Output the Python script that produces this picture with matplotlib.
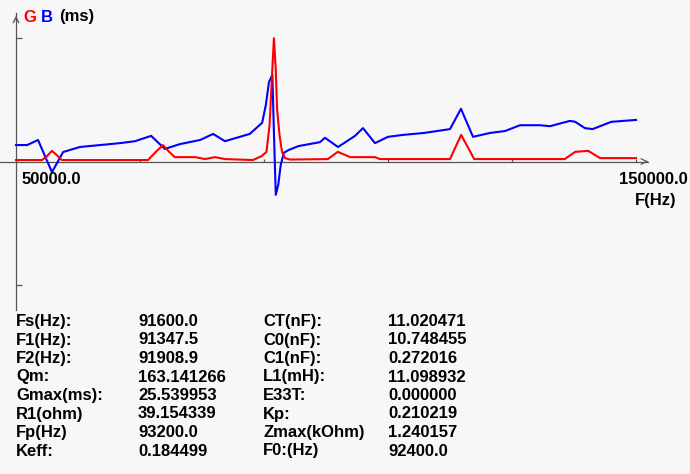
import matplotlib.pyplot as plt

# conductance G (red) and susceptance B (blue), in ms, vs frequency in Hz
freq_g = [50000, 54200, 55000, 55800, 56600, 57400, 71300, 72400, 73700, 74700,
          75600, 78900, 80500, 82100, 83700, 88200, 89600, 90400, 90900, 91300,
          91600, 91900, 92100, 92500, 92900, 93400, 94200, 100300, 101900, 103900,
          107900, 108700, 120000, 121800, 123900, 138500, 140200, 142300, 144200, 150000]
g_ms = [0.3, 0.3, 1.1, 2.2, 1.3, 0.3, 0.3, 1.8, 3.4, 2.0,
        0.9, 0.9, 0.5, 0.9, 0.5, 0.3, 1.1, 2.0, 7.5, 18.0,
        25.5, 19.0, 11.0, 5.5, 2.0, 0.7, 0.4, 0.5, 2.0, 0.9,
        0.9, 0.5, 0.5, 5.5, 0.5, 0.5, 2.0, 2.2, 0.7, 0.7]

freq_b = [50000, 51800, 53550, 55800, 57600, 60300, 63550, 66800, 69200, 71800,
          74000, 76450, 79700, 81800, 83700, 86100, 87700, 89700, 90300, 90800,
          91350, 91600, 91900, 92300, 92700, 93200, 94000, 95600, 99030, 99840,
          101940, 104680, 105970, 107900, 110000, 112400, 115800, 120000, 121770, 123710,
          126450, 128870, 131290, 134500, 136130, 139350, 140200, 141770, 143000, 146000, 150000]
b_ms = [3.4, 3.4, 4.45, -2.2, 1.96, 3.0, 3.4, 3.8, 4.2, 5.3,
        2.6, 3.6, 4.45, 5.7, 4.2, 5.1, 5.7, 8.0, 11.7, 16.4,
        17.9, 6.0, -6.9, -4.8, -0.7, 1.8, 2.4, 3.2, 4.0, 4.9,
        3.0, 5.3, 6.9, 3.8, 5.1, 5.5, 5.9, 6.7, 10.9, 5.1,
        5.9, 6.3, 7.5, 7.5, 7.3, 8.4, 8.2, 6.9, 6.7, 8.2, 8.6]

x_tick_freqs = [50000, 70000, 90000, 110000, 130000, 150000]
g_max = 25.539953

names_left = ['Fs(Hz):', 'F1(Hz):', 'F2(Hz):', 'Qm:', 'Gmax(ms):', 'R1(ohm)', 'Fp(Hz)', 'Keff:']
values_left = ['91600.0', '91347.5', '91908.9', '163.141266', '25.539953',
               '39.154339', '93200.0', '0.184499']
names_right = ['CT(nF):', 'C0(nF):', 'C1(nF):', 'L1(mH):', 'E33T:', 'Kp:', 'Zmax(kOhm)', 'F0:(Hz)']
values_right = ['11.020471', '10.748455', '0.272016', '11.098932', '0.000000',
                '0.210219', '1.240157', '92400.0']

W, H = 690, 474
bg = '#f7f7f7'
axc = '#555555'

# pixel geometry of the plot area
px_per_hz = 620 / 100000
px_per_ms = 4.836
x0_px, y0_px = 16, 161.5
xlim = (50000 - x0_px / px_per_hz, 50000 + (W - x0_px) / px_per_hz)
ylim = (-(H - y0_px) / px_per_ms, y0_px / px_per_ms)

fig = plt.figure(figsize=(W / 100, H / 100), dpi=100, facecolor=bg)
ax = fig.add_axes([0, 0, 1, 1], facecolor=bg)
ax.set_xlim(xlim)
ax.set_ylim(ylim)

ax.plot(freq_b, b_ms, color='#0000ff', lw=1.5, zorder=3)
ax.plot(freq_g, g_ms, color='#ff0000', lw=1.5, zorder=4)

# axes through origin
for s in ['top', 'right']:
    ax.spines[s].set_visible(False)
ax.spines['left'].set_position(('data', 50000))
ax.spines['bottom'].set_position(('data', 0))
y_top = (y0_px - 13) / px_per_ms
x_end = 50000 + (648 - x0_px) / px_per_hz
ax.spines['left'].set_bounds(-y_top, y_top)
ax.spines['bottom'].set_bounds(xlim[0], x_end)
for s in ['left', 'bottom']:
    ax.spines[s].set_color(axc)
    ax.spines[s].set_linewidth(0.9)

ax.set_xticks(x_tick_freqs)
ax.set_yticks([g_max, -g_max])
ax.set_xticklabels([])
ax.set_yticklabels([])
ax.tick_params(axis='x', direction='in', length=2.5, width=0.9, color=axc)
ax.tick_params(axis='y', direction='in', length=4, width=0.9, color=axc)

# arrow heads
ax.annotate('', xy=(50000, y_top), xytext=(50000, y_top - 2),
            arrowprops=dict(arrowstyle='->', color=axc, lw=0.9, mutation_scale=10))
ax.annotate('', xy=(x_end, 0), xytext=(x_end - 800, 0),
            arrowprops=dict(arrowstyle='->', color=axc, lw=0.9, mutation_scale=10))

font = dict(family='Liberation Sans', fontweight='bold', fontsize=12)

def put(xp, yp, s, color='black', ha='left'):
    fig.text(xp / W, 1 - yp / H, s, color=color, ha=ha, va='center', **font)

put(23, 17, 'G', '#ff0000')
put(41, 17, 'B', '#0000ff')
put(59, 17, '(ms)')
put(22, 179, '50000.0')
put(688, 179, '150000.0', ha='right')
put(677, 201, 'F(Hz)', ha='right')

for i in range(len(names_left)):
    yp = 321.5 + 18.5 * i
    put(16, yp, names_left[i])
    put(138, yp, values_left[i])
    put(263, yp, names_right[i])
    put(388, yp, values_right[i])

fig.savefig('out.png', dpi=100, facecolor=bg)
